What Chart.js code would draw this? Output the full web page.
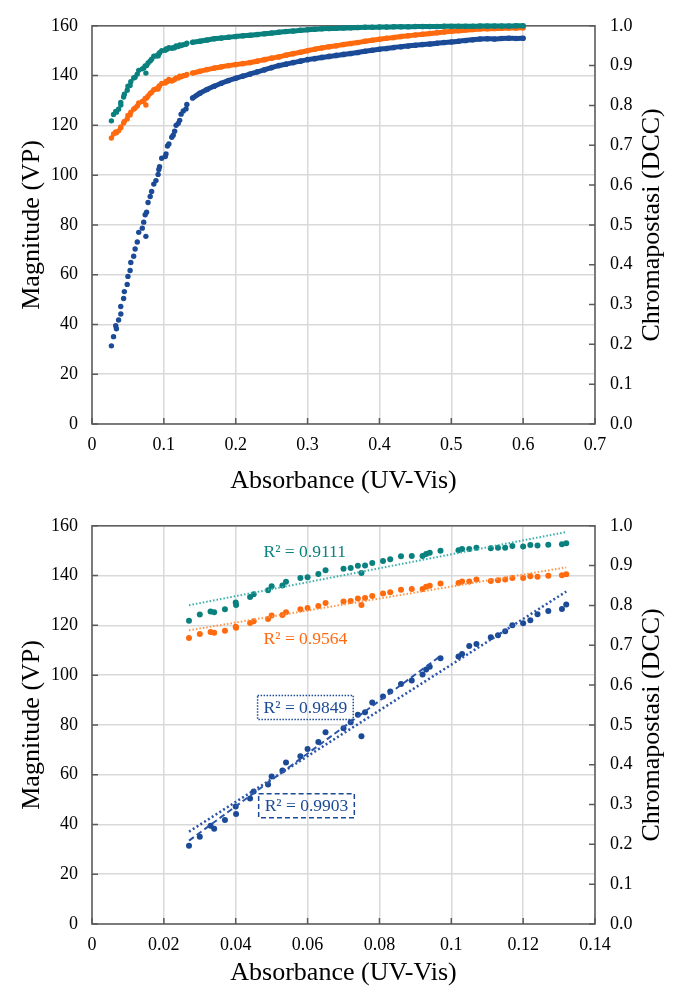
<!DOCTYPE html>
<html>
<head>
<meta charset="utf-8">
<script src="https://cdn.jsdelivr.net/npm/chart.js@4.4.0/dist/chart.umd.min.js"></script>
<style>
  body { margin: 0; background: #fff; }
  canvas { display: block; }
</style>
</head>
<body>
<canvas id="topChart" width="675" height="500"></canvas>
<canvas id="bottomChart" width="675" height="492"></canvas>
<script>
// low absorbance points (shown in both charts)
var xLow = [0.027, 0.030, 0.033, 0.034, 0.037, 0.0400, 0.0401, 0.044, 0.045, 0.049, 0.050, 0.053, 0.054, 0.058, 0.060,
  0.063, 0.065, 0.070, 0.072, 0.074, 0.075, 0.076, 0.078, 0.081, 0.083, 0.086, 0.089, 0.092, 0.093, 0.094, 0.097,
  0.102, 0.103, 0.105, 0.107, 0.111, 0.113, 0.115, 0.117, 0.120, 0.122, 0.124, 0.127, 0.1308, 0.132];
var tealLow = [121.8, 124.4, 125.6, 125.3, 126.5, 129.2, 128.2, 131.4, 132.5, 134.1, 135.7, 136.0, 137.5, 139.0, 139.3,
  140.6, 142.1, 142.7, 143.0, 143.9, 141.0, 144.0, 145.1, 145.9, 146.6, 147.8, 147.9, 147.9, 148.7, 149.2, 150.0,
  150.2, 150.7, 150.7, 151.2, 151.0, 151.2, 151.2, 151.9, 151.7, 152.3, 152.1, 152.4, 152.6, 153.0];
var orangeLow = [114.9, 116.5, 117.3, 117.0, 117.8, 119.4, 119.0, 120.9, 121.6, 122.6, 124.0, 124.2, 125.3, 126.5, 127.0,
  127.8, 129.0, 129.6, 129.8, 130.8, 128.2, 131.0, 131.8, 132.8, 133.3, 134.3, 134.6, 134.6, 135.5, 135.9, 136.8,
  137.0, 137.6, 137.6, 138.4, 137.8, 138.1, 138.4, 139.0, 139.0, 139.7, 139.5, 139.9, 140.1, 140.5];
var blueLow = [31.4, 35.1, 39.5, 38.3, 41.8, 47.2, 44.2, 50.4, 53.2, 56.1, 59.3, 61.7, 64.9, 67.4, 70.3,
  73.1, 77.0, 78.7, 81.1, 84.1, 75.4, 85.1, 89.0, 91.4, 93.4, 96.4, 97.8, 100.3, 102.3, 103.4, 106.8,
  107.5, 108.5, 111.7, 112.5, 115.2, 116.0, 117.6, 120.0, 120.8, 122.0, 124.5, 125.8, 126.6, 128.4];

// dense part of the top chart
var xHigh = [0.14, 0.15, 0.16, 0.17, 0.18, 0.19, 0.20, 0.21, 0.22, 0.23, 0.24, 0.25, 0.26, 0.27, 0.28, 0.29, 0.30,
  0.31, 0.32, 0.33, 0.34, 0.35, 0.36, 0.37, 0.38, 0.39, 0.40, 0.41, 0.42, 0.43, 0.44, 0.45, 0.46, 0.47, 0.48, 0.49,
  0.50, 0.51, 0.52, 0.53, 0.54, 0.55, 0.56, 0.57, 0.58, 0.59, 0.60];
var tealHigh = [153.4, 153.8, 154.3, 154.8, 155.1, 155.4, 155.7, 156.0, 156.2, 156.5, 156.8, 157.1, 157.4, 157.7, 157.9,
  158.2, 158.4, 158.6, 158.8, 158.9, 159.0, 159.1, 159.2, 159.3, 159.4, 159.4, 159.5, 159.5, 159.6, 159.6, 159.6,
  159.7, 159.7, 159.7, 159.7, 159.8, 159.8, 159.8, 159.8, 159.8, 159.9, 159.9, 159.9, 159.9, 159.9, 160.0, 160.0];
var orangeHigh = [141.0, 141.7, 142.4, 143.0, 143.5, 144.0, 144.4, 144.8, 145.2, 145.8, 146.4, 147.0, 147.5, 148.2, 148.8,
  149.4, 150.0, 150.6, 151.1, 151.6, 152.0, 152.5, 152.9, 153.3, 153.8, 154.2, 154.6, 155.0, 155.3, 155.7, 156.0,
  156.3, 156.6, 156.9, 157.2, 157.5, 157.8, 158.0, 158.3, 158.5, 158.7, 158.8, 158.9, 159.0, 159.1, 159.1, 159.2];
var blueHigh = [131.0, 132.9, 134.4, 135.7, 136.9, 138.0, 138.9, 139.8, 140.6, 141.5, 142.3, 143.2, 144.0, 144.6, 145.2,
  145.8, 146.4, 146.8, 147.3, 147.7, 148.1, 148.5, 148.9, 149.3, 149.8, 150.2, 150.6, 150.9, 151.3, 151.6, 151.9,
  152.2, 152.5, 152.7, 153.0, 153.3, 153.5, 153.8, 154.1, 154.4, 154.7, 154.8, 154.7, 154.9, 155.0, 154.9, 155.0];

// trend lines of the bottom chart (end points)
var tealTrendX = [0.027, 0.132], tealTrendY = [128.1, 157.5];
var orangeTrendX = [0.027, 0.132], orangeTrendY = [118.0, 143.3];
var blueTrendX = [0.027, 0.132], blueTrendY = [37.1, 133.6];
var blueTrend2X = [0.027, 0.097], blueTrend2Y = [33.5, 107.7];

var r2Labels = ['R² = 0.9111', 'R² = 0.9564', 'R² = 0.9849', 'R² = 0.9903'];

var TEAL = '#0a817e', ORANGE = '#ff6a0e', BLUE = '#1b4a97';
var SERIF = "'Liberation Serif', 'Times New Roman', serif";

function pts(xs, ys) {
  return xs.map(function (x, i) { return { x: x, y: ys[i] }; });
}

function dots(xs, ys, color, r) {
  return { data: pts(xs, ys), backgroundColor: color, borderColor: color, pointRadius: r, pointBorderWidth: 0,
    pointHoverRadius: r, showLine: false, clip: false, order: 5 };
}

function band(xs, ys, color) {
  return { data: pts(xs, ys), backgroundColor: color, borderColor: color, pointRadius: 2.8, pointBorderWidth: 0,
    showLine: true, borderWidth: 5, tension: 0.2, clip: false, order: 5 };
}

function trend(xs, ys, color, dash, w) {
  return { data: pts(xs, ys), borderColor: color, backgroundColor: color, showLine: true, pointRadius: 0,
    borderWidth: w, borderDash: dash, borderCapStyle: 'butt', order: 1 };
}

// outer frame, inward tick marks and the right axis title (reads bottom to top)
var frame = {
  id: 'frame',
  beforeDatasetsDraw: function (chart) {
    var ctx = chart.ctx, a = chart.chartArea, s = chart.scales;
    ctx.save();
    ctx.strokeStyle = '#5a5a5a';
    ctx.lineWidth = 1.5;
    ctx.beginPath();
    s.x.ticks.forEach(function (t) {
      var p = s.x.getPixelForValue(t.value);
      ctx.moveTo(p, a.bottom); ctx.lineTo(p, a.bottom - 6);
    });
    s.y.ticks.forEach(function (t) {
      var p = s.y.getPixelForValue(t.value);
      ctx.moveTo(a.left, p); ctx.lineTo(a.left + 6, p);
    });
    s.y2.ticks.forEach(function (t) {
      var p = s.y2.getPixelForValue(t.value);
      ctx.moveTo(a.right, p); ctx.lineTo(a.right - 6, p);
    });
    ctx.stroke();
    ctx.strokeRect(a.left, a.top, a.right - a.left, a.bottom - a.top);

    ctx.translate(chart.width - 23, (a.top + a.bottom) / 2);
    ctx.rotate(-Math.PI / 2);
    ctx.font = '26px ' + SERIF;
    ctx.fillStyle = '#000';
    ctx.textAlign = 'center';
    ctx.textBaseline = 'middle';
    ctx.fillText('Chromapostasi (DCC)', 0, 0);
    ctx.restore();
  }
};

// R² labels, placed in data coordinates
var r2Plugin = {
  id: 'r2',
  afterDatasetsDraw: function (chart) {
    var ctx = chart.ctx, sx = chart.scales.x, sy = chart.scales.y;
    var items = [
      { text: r2Labels[0], x: 0.0592, y: 149.6, color: TEAL, box: null },
      { text: r2Labels[1], x: 0.0594, y: 114.9, color: ORANGE, box: null },
      { text: r2Labels[2], x: 0.0594, y: 87.0, color: BLUE, box: [1.5, 1.5] },
      { text: r2Labels[3], x: 0.0597, y: 47.5, color: BLUE, box: [5, 3] }
    ];
    ctx.save();
    ctx.font = '17.5px ' + SERIF;
    ctx.textAlign = 'center';
    ctx.textBaseline = 'middle';
    items.forEach(function (it) {
      var px = sx.getPixelForValue(it.x), py = sy.getPixelForValue(it.y);
      ctx.fillStyle = it.color;
      ctx.fillText(it.text, px, py + 1);
      if (it.box) {
        var w = ctx.measureText(it.text).width + 12, h = 24;
        ctx.strokeStyle = it.color;
        ctx.lineWidth = 1.5;
        ctx.setLineDash(it.box);
        ctx.strokeRect(px - w / 2, py - h / 2, w, h);
        ctx.setLineDash([]);
      }
    });
    ctx.restore();
  }
};

function fmt(v) { return String(+v.toFixed(2)); }

function makeOptions(xMax, xStep, topPad, xH) {
  var tickFont = { family: SERIF, size: 18 };
  var titleFont = { family: SERIF, size: 26, lineHeight: 1 };
  var grid = { color: '#d9d9d9', lineWidth: 1.5, drawTicks: false };
  return {
    responsive: false,
    animation: false,
    events: [],
    layout: { padding: { top: topPad, left: 0, right: 0, bottom: 0 } },
    plugins: { legend: { display: false }, tooltip: { enabled: false } },
    scales: {
      x: {
        type: 'linear', min: 0, max: xMax,
        ticks: { stepSize: xStep, callback: fmt, font: tickFont, color: '#000', padding: 10, maxRotation: 0 },
        grid: grid, border: { display: false },
        title: { display: true, text: 'Absorbance (UV-Vis)', font: titleFont, color: '#000', padding: { top: 6, bottom: 6 } },
        afterFit: function (s) { s.height = xH; }
      },
      y: {
        type: 'linear', position: 'left', min: 0, max: 160,
        ticks: { stepSize: 20, font: tickFont, color: '#000', padding: 14 },
        grid: grid, border: { display: false },
        title: { display: true, text: 'Magnitude (VP)', font: titleFont, color: '#000', padding: { top: 19, bottom: 0 } },
        afterFit: function (s) { s.width = 92; }
      },
      y2: {
        type: 'linear', position: 'right', min: 0, max: 1,
        ticks: { stepSize: 0.1, callback: function (v) { return v.toFixed(1); }, font: tickFont, color: '#000', padding: 15 },
        grid: { display: false, drawTicks: false }, border: { display: false },
        title: { display: false },
        afterFit: function (s) { s.width = 80; }
      }
    }
  };
}

new Chart(document.getElementById('topChart'), {
  type: 'scatter',
  data: {
    datasets: [
      dots(xLow, tealLow, TEAL, 2.7), band(xHigh, tealHigh, TEAL),
      dots(xLow, orangeLow, ORANGE, 2.7), band(xHigh, orangeHigh, ORANGE),
      dots(xLow, blueLow, BLUE, 2.7), band(xHigh, blueHigh, BLUE)
    ]
  },
  options: makeOptions(0.7, 0.1, 22, 76),
  plugins: [frame]
});

new Chart(document.getElementById('bottomChart'), {
  type: 'scatter',
  data: {
    datasets: [
      trend(tealTrendX, tealTrendY, '#39aeab', [1.5, 2], 2),
      trend(orangeTrendX, orangeTrendY, '#ff9446', [1.5, 2], 2),
      trend(blueTrendX, blueTrendY, '#2a55a8', [2, 2.5], 2.5),
      trend(blueTrend2X, blueTrend2Y, '#2a55a8', [6, 3.5], 2),
      dots(xLow, tealLow, TEAL, 3),
      dots(xLow, orangeLow, ORANGE, 3),
      dots(xLow, blueLow, BLUE, 3)
    ]
  },
  options: makeOptions(0.14, 0.02, 23, 68),
  plugins: [frame, r2Plugin]
});
</script>
</body>
</html>
